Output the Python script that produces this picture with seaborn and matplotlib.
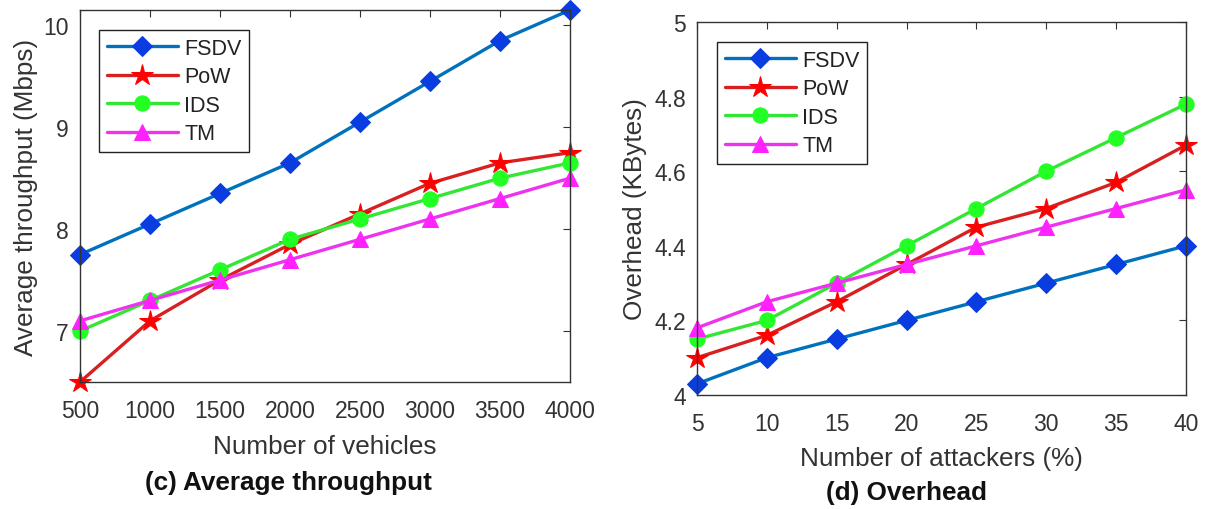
## Throughput / overhead comparison plots (c) and (d)

import numpy as np
import pandas as pd
import seaborn as sns
from matplotlib import pyplot as plt
from matplotlib.ticker import FormatStrFormatter

# data
vehicles = [500, 1000, 1500, 2000, 2500, 3000, 3500, 4000]
thr_fsdv = [7.75, 8.05, 8.35, 8.65, 9.05, 9.45, 9.85, 10.15]
thr_pow = [6.5, 7.1, 7.5, 7.85, 8.15, 8.45, 8.65, 8.75]
thr_ids = [7.0, 7.3, 7.6, 7.9, 8.1, 8.3, 8.5, 8.65]
thr_tm = [7.1, 7.3, 7.5, 7.7, 7.9, 8.1, 8.3, 8.5]

attackers = [5, 10, 15, 20, 25, 30, 35, 40]
ovh_fsdv = [4.03, 4.1, 4.15, 4.2, 4.25, 4.3, 4.35, 4.4]
ovh_pow = [4.1, 4.16, 4.25, 4.35, 4.45, 4.5, 4.57, 4.67]
ovh_ids = [4.15, 4.2, 4.3, 4.4, 4.5, 4.6, 4.69, 4.78]
ovh_tm = [4.18, 4.25, 4.3, 4.35, 4.4, 4.45, 4.5, 4.55]

methods = ['FSDV', 'PoW', 'IDS', 'TM']

# line colour, marker, marker face colour, marker size
styles = {
    'FSDV': ('#0072BD', 'D', '#0a3de0', 10),
    'PoW': ('#d92020', '*', '#ff0000', 16),
    'IDS': ('#33e633', 'o', '#22ff22', 11),
    'TM': ('#ee33ee', '^', '#ff22ff', 11),
}

sns.set_style('white')
plt.rcParams['font.family'] = ['Liberation Sans', 'DejaVu Sans']
txt_col = '#333333'

fig = plt.figure(figsize=(12.16, 5.1), dpi=100)
ax1 = fig.add_axes([80 / 1216, 127 / 510, 490 / 1216, 372 / 510])
ax2 = fig.add_axes([697 / 1216, 114 / 510, 489 / 1216, 373 / 510])


def draw(ax, x, series):
    for name, y in zip(methods, series):
        col, mk, face, ms = styles[name]
        df = pd.DataFrame({'x': x, 'y': y})
        sns.lineplot(data=df, x='x', y='y', ax=ax, color=col, linewidth=2.4,
                     marker=mk, markersize=ms, markerfacecolor=face,
                     markeredgecolor=face, label=name, clip_on=False)
    ax.tick_params(direction='in', length=5, width=0.8, top=True, right=True,
                   labelsize=16.5, colors='#333333')
    ax.tick_params(axis='x', pad=12)
    ax.tick_params(axis='y', pad=8)
    for s in ax.spines.values():
        s.set_color('#333333')
        s.set_linewidth(1.0)
    leg = ax.legend(loc='upper left', fontsize=15.5, handlelength=3.3,
                    frameon=True, fancybox=False, framealpha=1,
                    edgecolor='#222222', borderpad=0.35, labelspacing=0.35,
                    handletextpad=0.3, borderaxespad=0)
    leg.get_frame().set_linewidth(1.0)
    for t in leg.get_texts():
        t.set_color('#222222')


draw(ax1, vehicles, [thr_fsdv, thr_pow, thr_ids, thr_tm])
ax1.set_xlim(500, 4000)
ax1.set_ylim(6.5, 10.15)
ax1.set_xticks(vehicles)
ax1.set_yticks([7, 8, 9, 10])
ax1.set_xlabel('Number of vehicles', fontsize=18.8, color=txt_col, labelpad=9)
ax1.set_ylabel('Average throughput (Mbps)', fontsize=18.8, color=txt_col, labelpad=4)
ax1.get_legend().set_bbox_to_anchor((19 / 490, 1 - 20 / 372))

draw(ax2, attackers, [ovh_fsdv, ovh_pow, ovh_ids, ovh_tm])
ax2.set_xlim(5, 40)
ax2.set_ylim(4, 5)
ax2.set_xticks(attackers)
ax2.set_yticks([4, 4.2, 4.4, 4.6, 4.8, 5])
ax2.yaxis.set_major_formatter(FormatStrFormatter('%g'))
ax2.set_xlabel('Number of attackers (%)', fontsize=18.8, color=txt_col, labelpad=8)
ax2.set_ylabel('Overhead (KBytes)', fontsize=18.8, color=txt_col, labelpad=5)
ax2.get_legend().set_bbox_to_anchor((20 / 489, 1 - 20 / 373))

fig.text(288 / 1216, 1 - 483 / 510, '(c) Average throughput', fontsize=18.8,
         fontweight='bold', ha='center', va='center', color='#111111')
fig.text(907 / 1216, 1 - 493 / 510, '(d) Overhead', fontsize=18.8,
         fontweight='bold', ha='center', va='center', color='#111111')

plt.savefig('out.png', dpi=100)
plt.close()
